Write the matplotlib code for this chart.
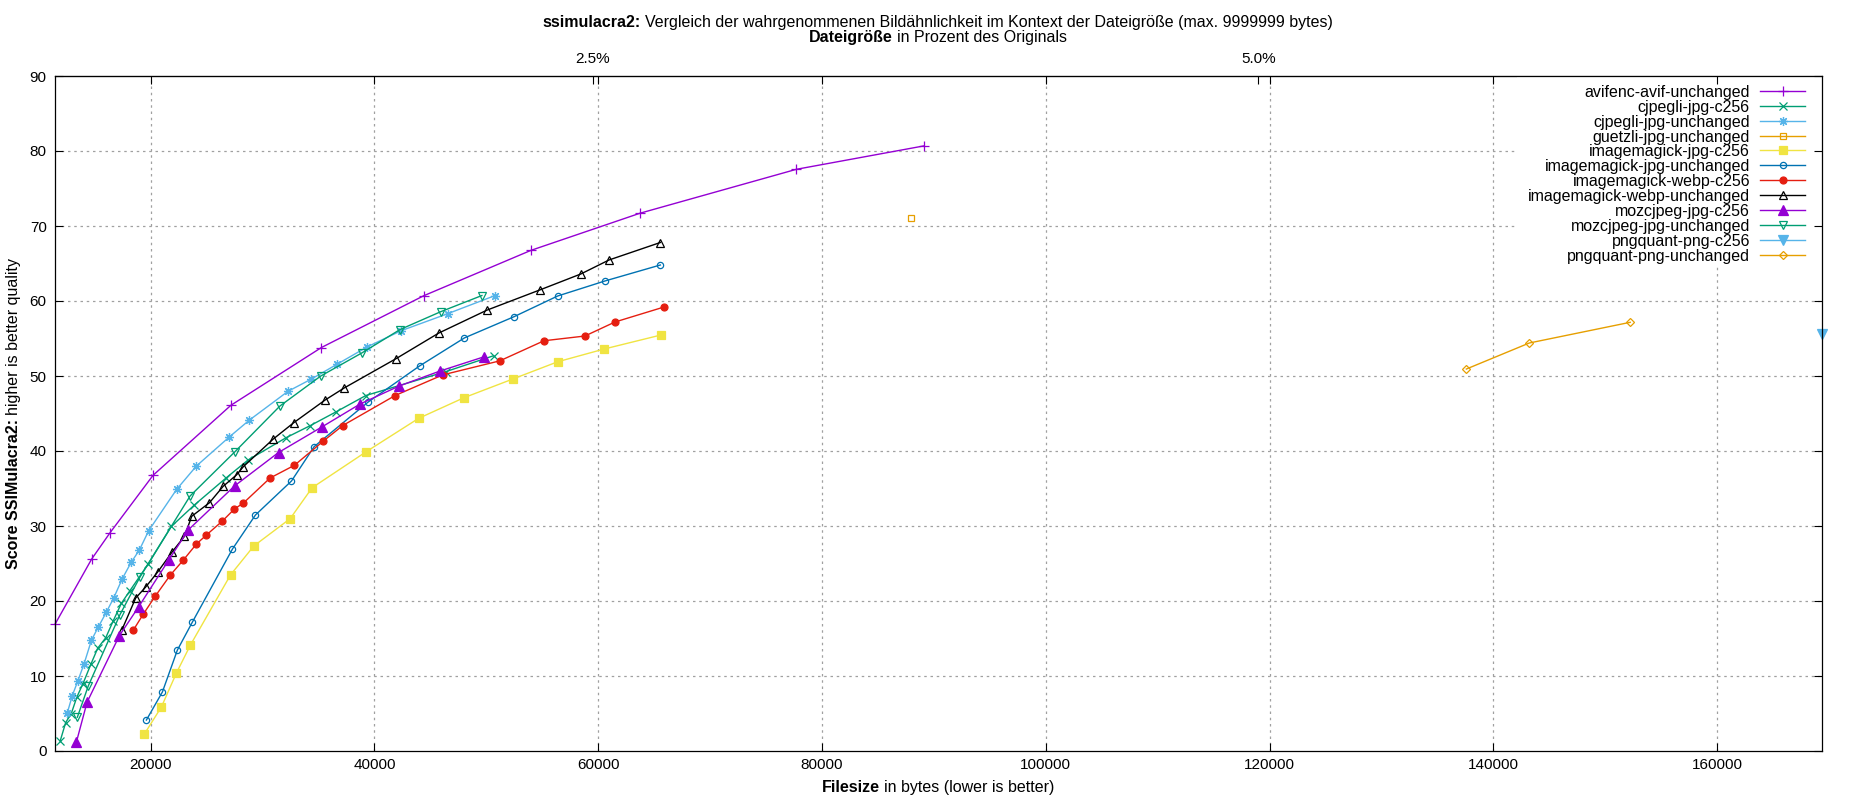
import matplotlib
matplotlib.use('Agg')
import matplotlib.pyplot as plt
from matplotlib.patches import Rectangle

plt.rcParams['font.family'] = ['Liberation Sans', 'DejaVu Sans']
plt.rcParams['font.size'] = 11

# --- data ---
names = ["avifenc-avif-unchanged", "cjpegli-jpg-c256", "cjpegli-jpg-unchanged",
         "guetzli-jpg-unchanged", "imagemagick-jpg-c256", "imagemagick-jpg-unchanged",
         "imagemagick-webp-c256", "imagemagick-webp-unchanged", "mozcjpeg-jpg-c256",
         "mozcjpeg-jpg-unchanged", "pngquant-png-c256", "pngquant-png-unchanged"]

avif_unch_x = [11444, 14723, 16363, 20209, 27170, 35260, 44400, 53980, 63721, 77708, 89070]
avif_unch_y = [16.9, 25.6, 29.1, 36.76, 46.1, 53.8, 60.7, 66.75, 71.7, 77.56, 80.67]

cjpegli_c256_x = [11920, 12400, 12900, 13400, 13950, 14660, 15260, 15980, 16660, 17380, 18150,
                  19760, 21850, 23900, 26730, 28700, 32130, 34280, 36540, 39230, 46410, 50640]
cjpegli_c256_y = [1.4, 3.8, 5.0, 7.2, 9.0, 11.6, 13.7, 15.1, 17.4, 19.7, 21.4,
                  24.9, 29.96, 32.8, 36.4, 38.8, 41.8, 43.4, 45.2, 47.4, 50.6, 52.7]

cjpegli_unch_x = [12546, 12994, 13500, 14037, 14700, 15319, 16020, 16691, 17466, 18256, 18986, 19821,
                  22325, 24085, 27006, 28800, 32260, 34365, 36690, 39374, 42400, 46530, 50730]
cjpegli_unch_y = [5.1, 7.4, 9.4, 11.6, 14.76, 16.55, 18.47, 20.4, 23.0, 25.16, 26.8, 29.38,
                  34.9, 38.0, 41.85, 44.1, 47.95, 49.6, 51.6, 53.9, 56.05, 58.3, 60.7]

guetzli_unch_x = [87973]
guetzli_unch_y = [71.07]

im_jpg_c256_x = [19434, 20954, 22296, 23548, 27140, 29212, 32462, 34425, 39255, 43940,
                 47990, 52365, 56379, 60531, 65615]
im_jpg_c256_y = [2.27, 5.87, 10.4, 14.13, 23.5, 27.33, 30.98, 35.1, 39.9, 44.35,
                 47.1, 49.6, 51.9, 53.6, 55.47]

im_jpg_unch_x = [19612, 21043, 22385, 23727, 27304, 29361, 32581, 34604, 39434, 44040,
                 48040, 52460, 56379, 60598, 65548]
im_jpg_unch_y = [4.13, 7.87, 13.47, 17.2, 26.93, 31.47, 36.0, 40.58, 46.53, 51.35,
                 55.08, 57.9, 60.67, 62.67, 64.8]

im_webp_c256_x = [18450, 19344, 20417, 21759, 22922, 24085, 24979, 26410, 27483, 28288, 30670,
                  32850, 35409, 37168, 41849, 46100, 51200, 55150, 58804, 61495, 65880]
im_webp_c256_y = [16.13, 18.27, 20.67, 23.47, 25.47, 27.6, 28.8, 30.67, 32.27, 33.07, 36.4,
                  38.1, 41.3, 43.4, 47.4, 50.15, 52.02, 54.7, 55.33, 57.2, 59.2]

im_webp_unch_x = [17436, 18658, 19553, 20626, 21908, 23011, 23667, 25247, 26480, 27675, 28290,
                  30955, 32770, 35588, 37287, 41878, 45750, 50050, 54770, 58439, 60963, 65548]
im_webp_unch_y = [16.2, 20.4, 21.87, 23.87, 26.53, 28.62, 31.3, 33.1, 35.3, 36.82, 37.93,
                  41.6, 43.76, 46.8, 48.4, 52.27, 55.73, 58.78, 61.47, 63.6, 65.47, 67.8]

moz_c256_x = [13351, 14306, 17198, 18927, 21610, 23369, 27500, 31420, 35290, 38718, 42180, 45830, 49770]
moz_c256_y = [1.16, 6.49, 15.38, 19.24, 25.47, 29.5, 35.35, 39.8, 43.2, 46.27, 48.65, 50.65, 52.55]

moz_unch_x = [13440, 14425, 17257, 19060, 23518, 27525, 31550, 35200, 38897, 42290, 45930, 49600]
moz_unch_y = [4.5, 8.7, 18.2, 23.25, 34.0, 39.9, 46.0, 50.0, 53.1, 56.2, 58.58, 60.73]

pngq_c256_x = [169375]
pngq_c256_y = [55.6]

pngq_unch_x = [137589, 143214, 152232]
pngq_unch_y = [50.93, 54.4, 57.16]

xs = [avif_unch_x, cjpegli_c256_x, cjpegli_unch_x, guetzli_unch_x, im_jpg_c256_x, im_jpg_unch_x,
      im_webp_c256_x, im_webp_unch_x, moz_c256_x, moz_unch_x, pngq_c256_x, pngq_unch_x]
ys = [avif_unch_y, cjpegli_c256_y, cjpegli_unch_y, guetzli_unch_y, im_jpg_c256_y, im_jpg_unch_y,
      im_webp_c256_y, im_webp_unch_y, moz_c256_y, moz_unch_y, pngq_c256_y, pngq_unch_y]

orig_size = 2380000  # bytes, for the percent axis on top
pct_ticks = [2.5, 5.0]
x_ticks = list(range(20000, 160001, 20000))
y_ticks = list(range(0, 91, 10))

# gnuplot-like styles
colors = ['#9400d3', '#009e73', '#56b4e9', '#e69f00', '#f0e442', '#0072b2',
          '#e51e10', '#000000', '#9400d3', '#009e73', '#56b4e9', '#e69f00']
markers = ['+', 'x', (8, 2, 0), 's', 's', 'o', 'o', '^', '^', 'v', 'v', 'D']
filled = [True, True, True, False, True, False, True, False, True, False, True, False]
msizes = [7, 5.5, 6.5, 5, 5.5, 4.5, 5, 6, 6.5, 6, 6.5, 4.5]

TXT = 11.5   # title, key and axis labels
TICK = 11

W, H = 1850, 800
L, R, T, B = 55, 1822, 76, 751
fig = plt.figure(figsize=(W / 100, H / 100), dpi=100)
ax = fig.add_axes([L / W, 1 - B / H, (R - L) / W, (B - T) / H])
ax.set_axisbelow(False)


def style(i):
    c = colors[i]
    return dict(color=c, lw=1.0, marker=markers[i], ms=msizes[i], mec=c, mew=0.9,
                mfc=c if filled[i] else 'none')


for i in range(len(names)):
    ax.plot(xs[i], ys[i], zorder=2, clip_on=False, **style(i))

ax.set_xlim(min(min(v) for v in xs), max(max(v) for v in xs))
ax.set_ylim(0, 90)
ax.set_xticks(x_ticks)
ax.set_yticks(y_ticks)
ax.tick_params(direction='in', length=6, width=0.8, top=True, right=True, labelsize=TICK)
ax.tick_params(axis='x', pad=5)
ax.tick_params(axis='y', pad=6)
for s in ax.spines.values():
    s.set_linewidth(0.9)

# dotted grid behind the data
for xt in x_ticks:
    ax.axvline(xt, color='#a0a0a0', lw=0.9, ls=(0, (2, 3)), zorder=0.5)
for yt in y_ticks[1:-1]:
    ax.axhline(yt, color='#a0a0a0', lw=0.9, ls=(0, (2, 3)), zorder=0.5)

# percent axis on top
secax = ax.secondary_xaxis('top', functions=(lambda x: x / orig_size * 100,
                                              lambda p: p * orig_size / 100))
secax.set_xticks(pct_ticks)
secax.set_xticklabels([f'{p:.1f}%' for p in pct_ticks])
secax.tick_params(direction='in', length=6, width=0.8, pad=7, labelsize=TICK)


# opaque key in the top right corner
def ax_x(px):
    return (px - L) / (R - L)


def ax_y(py):
    return (B - py) / (B - T)


ax.add_patch(Rectangle((ax_x(1517), ax_y(264)), ax_x(R) - ax_x(1517), ax_y(T) - ax_y(264),
                       transform=ax.transAxes, facecolor='white', edgecolor='none', zorder=1))
for i, name in enumerate(names):
    ky = ax_y(90.7 + i * 14.94)
    ax.text(ax_x(1750), ky, name, transform=ax.transAxes, ha='right', va='center_baseline',
            fontsize=TXT, zorder=3)
    st = style(i)
    ax.plot([ax_x(1760), ax_x(1805)], [ky, ky], transform=ax.transAxes, color=st['color'],
            lw=1.0, zorder=3, clip_on=False)
    st.pop('lw')
    ax.plot([ax_x(1782.5)], [ky], transform=ax.transAxes, ls='none', zorder=3, clip_on=False, **st)

# texts with a bold lead-in
renderer = fig.canvas.get_renderer()
gap = TXT * 100 / 72 * 0.25


def mixed(cx, base, bold, normal, rotate=False, size=TXT):
    t1 = fig.text(0, 0, bold, fontsize=size, fontweight='bold', ha='left', va='baseline')
    t2 = fig.text(0, 0, normal, fontsize=size, ha='left', va='baseline')
    w1 = t1.get_window_extent(renderer).width
    w2 = t2.get_window_extent(renderer).width
    start = cx - (w1 + gap + w2) / 2
    if not rotate:
        t1.set_position((start / W, 1 - base / H))
        t2.set_position(((start + w1 + gap) / W, 1 - base / H))
    else:
        # cx is the vertical centre (pixels from top), base the baseline x
        start = cx + (w1 + gap + w2) / 2
        for t in (t1, t2):
            t.set_rotation(90)
            t.set_rotation_mode('anchor')
        t1.set_position((base / W, 1 - start / H))
        t2.set_position((base / W, 1 - (start - w1 - gap) / H))


mixed(938, 27.3, 'ssimulacra2:',
      'Vergleich der wahrgenommenen Bildähnlichkeit im Kontext der Dateigröße (max. 9999999 bytes)')
mixed(938, 42, 'Dateigröße', 'in Prozent des Originals')
mixed((L + R) / 2, 792, 'Filesize', 'in bytes (lower is better)')
mixed((T + B) / 2, 18.3, 'Score SSIMulacra2:', 'higher is better quality', rotate=True)

fig.savefig('out.png', dpi=100)
